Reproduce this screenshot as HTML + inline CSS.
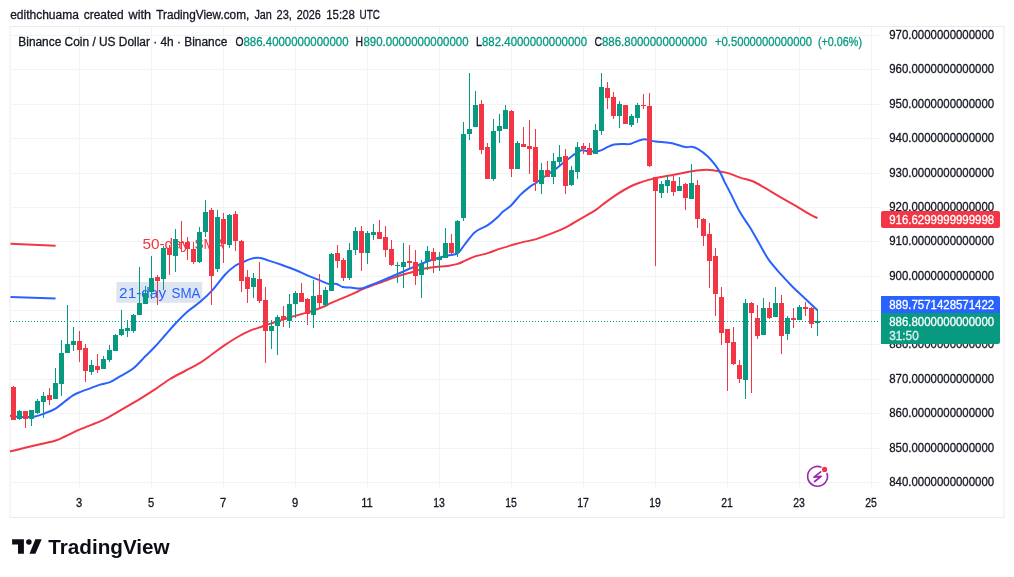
<!DOCTYPE html>
<html><head><meta charset="utf-8"><title>BNBUSD chart</title>
<style>
html,body{margin:0;padding:0;background:#fff;}
body{width:1014px;height:577px;overflow:hidden;font-family:"Liberation Sans",sans-serif;}
svg{display:block;will-change:transform;}
svg text{font-family:"Liberation Sans",sans-serif;}
</style></head><body>
<svg width="1014" height="577" viewBox="0 0 1014 577">
<rect x="0" y="0" width="1014" height="577" fill="#ffffff"/>
<rect x="10" y="26.5" width="994" height="491" fill="none" stroke="#ebebee" stroke-width="1"/>
<g shape-rendering="crispEdges" fill="#f2f3f5">
<rect x="11" y="482" width="869" height="1"/><rect x="11" y="448" width="869" height="1"/><rect x="11" y="413" width="869" height="1"/><rect x="11" y="379" width="869" height="1"/><rect x="11" y="344" width="869" height="1"/><rect x="11" y="310" width="869" height="1"/><rect x="11" y="276" width="869" height="1"/><rect x="11" y="241" width="869" height="1"/><rect x="11" y="207" width="869" height="1"/><rect x="11" y="173" width="869" height="1"/><rect x="11" y="138" width="869" height="1"/><rect x="11" y="104" width="869" height="1"/><rect x="11" y="69" width="869" height="1"/><rect x="11" y="35" width="869" height="1"/><rect x="79" y="27" width="1" height="461"/><rect x="151" y="27" width="1" height="461"/><rect x="223" y="27" width="1" height="461"/><rect x="295" y="27" width="1" height="461"/><rect x="367" y="27" width="1" height="461"/><rect x="439" y="27" width="1" height="461"/><rect x="511" y="27" width="1" height="461"/><rect x="583" y="27" width="1" height="461"/><rect x="655" y="27" width="1" height="461"/><rect x="727" y="27" width="1" height="461"/><rect x="799" y="27" width="1" height="461"/><rect x="871" y="27" width="1" height="461"/>
</g>
<line x1="10.5" y1="243.7" x2="55.6" y2="245.8" stroke="#f23645" stroke-width="2"/>
<line x1="10.5" y1="297.1" x2="55.6" y2="298.6" stroke="#2962ff" stroke-width="2"/>
<text x="142.4" y="248.5" font-size="14.5" fill="#f23645" textLength="47" lengthAdjust="spacingAndGlyphs">50-day</text>
<text x="194.4" y="248.5" font-size="14.5" fill="#f23645" textLength="29.6" lengthAdjust="spacingAndGlyphs">SMA</text>
<rect x="116.4" y="282" width="85.8" height="20.8" fill="#dde5f0"/>
<text x="119.1" y="297.5" font-size="14.5" fill="#2962ff" textLength="47" lengthAdjust="spacingAndGlyphs">21-day</text>
<text x="171.5" y="297.5" font-size="14.5" fill="#2962ff" textLength="29" lengthAdjust="spacingAndGlyphs">SMA</text>
<path d="M10.0,451.5 C12.5,450.9 20.0,448.9 25.0,447.7 C30.0,446.5 35.0,445.4 40.0,444.2 C45.0,443.0 50.8,442.0 55.0,440.7 C59.2,439.4 60.8,438.4 65.0,436.5 C69.2,434.6 74.2,431.9 80.0,429.4 C85.8,426.9 95.0,423.6 100.0,421.4 C105.0,419.2 105.8,418.7 110.0,416.4 C114.2,414.1 120.0,410.6 125.0,407.7 C130.0,404.8 135.0,401.9 140.0,398.9 C145.0,395.8 150.0,392.7 155.0,389.4 C160.0,386.1 165.0,382.1 170.0,379.0 C175.0,375.9 180.0,373.7 185.0,371.0 C190.0,368.3 195.4,365.6 200.0,362.8 C204.6,360.0 208.3,357.0 212.5,354.0 C216.7,351.0 220.9,347.7 225.1,344.9 C229.3,342.1 233.4,339.4 237.6,337.0 C241.8,334.6 245.9,332.5 250.1,330.7 C254.3,328.9 258.5,327.8 262.7,326.3 C266.9,324.9 271.0,323.4 275.2,322.0 C279.4,320.6 283.5,319.5 287.7,318.2 C291.9,316.9 296.1,315.6 300.3,314.4 C304.5,313.1 308.6,312.1 312.8,310.7 C317.0,309.3 322.4,307.2 325.3,306.0 C328.2,304.8 327.3,304.6 330.2,303.3 C333.1,302.0 338.5,300.0 342.7,298.2 C346.9,296.4 352.2,294.1 355.3,292.6 C358.4,291.2 358.8,290.6 361.5,289.5 C364.2,288.4 368.1,286.9 371.5,285.7 C374.9,284.4 377.6,283.6 382.0,282.0 C386.4,280.4 392.9,277.9 397.6,276.4 C402.3,274.8 405.9,273.9 410.1,272.7 C414.3,271.4 418.4,269.9 422.6,268.9 C426.8,267.9 431.0,267.4 435.2,266.9 C439.4,266.4 443.9,266.4 447.7,265.9 C451.4,265.4 454.8,264.8 457.7,263.9 C460.6,263.0 462.3,261.9 465.2,260.7 C468.1,259.4 471.4,257.7 475.2,256.4 C479.0,255.1 484.0,254.3 487.8,253.1 C491.6,251.9 494.1,250.7 497.8,249.4 C501.6,248.2 506.1,246.8 510.3,245.6 C514.5,244.4 518.6,243.1 522.8,242.1 C527.0,241.1 530.8,240.8 535.4,239.4 C540.0,238.0 545.4,235.9 550.4,233.9 C555.4,231.9 560.4,230.1 565.4,227.6 C570.4,225.1 575.5,221.7 580.5,218.8 C585.5,215.9 591.8,212.5 595.5,210.1 C599.2,207.7 599.5,207.0 602.8,204.5 C606.1,202.0 610.8,198.3 615.4,195.3 C620.0,192.3 626.1,188.7 630.4,186.5 C634.7,184.3 637.3,183.5 641.4,182.1 C645.5,180.7 649.5,179.6 655.1,178.3 C660.7,177.0 669.4,175.7 675.2,174.5 C681.1,173.3 685.6,172.2 690.2,171.4 C694.8,170.6 699.0,170.1 702.8,169.9 C706.6,169.7 708.8,169.7 712.8,170.2 C716.8,170.7 722.5,171.7 727.1,172.9 C731.7,174.1 735.9,176.2 740.2,177.6 C744.5,179.0 748.5,179.6 752.7,181.3 C756.9,183.1 760.7,185.5 765.3,188.1 C769.9,190.7 775.3,194.2 780.3,197.1 C785.3,200.0 790.3,202.7 795.3,205.6 C800.3,208.5 806.6,212.5 810.3,214.6 C814.0,216.7 816.2,217.5 817.4,218.1" fill="none" stroke="#f23645" stroke-width="2" stroke-linejoin="round" stroke-linecap="butt"/>
<path d="M10.0,415.7 C11.7,415.9 15.8,416.9 20.0,417.0 C24.2,417.1 30.8,417.0 35.0,416.4 C39.2,415.8 41.7,414.4 45.0,413.2 C48.3,411.9 51.7,410.9 55.0,408.9 C58.3,406.9 62.1,403.6 65.0,401.4 C67.9,399.2 70.1,397.2 72.6,395.6 C75.1,394.1 77.1,393.3 80.0,392.1 C82.9,390.9 86.7,389.6 90.0,388.4 C93.3,387.1 96.7,385.7 100.0,384.6 C103.3,383.6 106.7,383.5 110.0,382.1 C113.3,380.7 116.2,378.5 120.0,376.3 C123.8,374.1 128.6,372.1 132.8,368.8 C137.0,365.5 141.6,360.1 145.3,356.3 C149.1,352.6 152.0,349.9 155.3,346.3 C158.6,342.8 161.8,339.0 165.3,335.0 C168.8,331.0 172.7,326.4 176.4,322.5 C180.1,318.6 183.6,314.9 187.6,311.5 C191.6,308.1 196.0,305.4 200.2,301.8 C204.4,298.2 208.5,294.4 212.7,289.8 C216.9,285.2 221.4,278.5 225.2,274.5 C228.9,270.5 232.5,267.7 235.2,265.8 C237.9,263.9 238.8,264.0 241.3,262.9 C243.8,261.8 247.1,260.0 250.0,259.1 C252.9,258.2 255.7,257.4 258.8,257.7 C261.9,257.9 265.1,259.4 268.9,260.6 C272.7,261.8 277.0,263.2 281.4,264.8 C285.8,266.4 291.0,268.2 295.4,270.0 C299.8,271.8 303.7,273.8 307.9,275.6 C312.1,277.4 316.9,279.2 320.4,280.6 C323.9,282.0 326.3,283.6 329.0,284.1 C331.7,284.7 334.2,283.4 336.5,283.9 C338.8,284.4 340.4,286.4 342.7,287.0 C345.0,287.6 347.5,287.3 350.5,287.6 C353.5,287.9 357.6,288.8 360.5,288.6 C363.4,288.4 364.2,287.6 367.8,286.3 C371.4,285.0 377.0,282.8 382.0,280.7 C387.0,278.6 392.9,276.0 397.6,274.0 C402.3,272.0 405.9,270.3 410.1,268.5 C414.3,266.7 418.4,264.8 422.6,263.2 C426.8,261.6 431.0,260.1 435.2,258.8 C439.4,257.5 443.9,256.4 447.7,255.5 C451.4,254.6 454.8,255.1 457.7,253.2 C460.6,251.3 462.3,247.4 465.2,243.9 C468.1,240.4 471.4,235.0 475.2,231.9 C479.0,228.8 484.0,227.6 487.8,225.1 C491.6,222.6 495.4,219.2 497.8,217.0 C500.2,214.8 500.2,214.1 502.5,212.1 C504.8,210.1 508.4,208.0 511.3,205.2 C514.2,202.4 517.2,198.0 520.1,195.1 C523.0,192.2 526.1,189.7 528.8,187.6 C531.5,185.5 533.7,184.5 536.4,182.6 C539.1,180.7 542.0,178.5 545.1,176.3 C548.2,174.1 552.3,171.6 555.2,169.4 C558.1,167.2 560.2,165.2 562.7,163.2 C565.2,161.2 568.1,159.1 570.2,157.5 C572.3,155.9 573.3,155.0 575.2,153.8 C577.1,152.6 579.4,150.6 581.5,150.2 C583.6,149.8 584.8,151.1 587.7,151.2 C590.6,151.3 595.6,151.7 599.0,151.0 C602.4,150.3 605.3,148.0 607.8,146.9 C610.3,145.8 611.6,145.1 614.0,144.6 C616.4,144.1 619.3,144.0 622.0,143.9 C624.7,143.8 626.9,144.7 630.4,143.9 C633.9,143.2 638.7,139.8 642.9,139.4 C647.1,139.0 650.8,140.8 655.4,141.4 C660.0,142.0 665.5,142.0 670.5,142.9 C675.5,143.8 681.7,146.4 685.2,147.0 C688.7,147.6 689.4,146.4 691.5,146.7 C693.6,147.0 695.0,147.2 697.7,148.8 C700.4,150.4 704.9,153.7 707.8,156.4 C710.7,159.1 713.2,162.4 715.3,165.1 C717.4,167.8 718.7,169.9 720.3,172.7 C721.9,175.5 723.1,178.8 724.7,182.1 C726.4,185.4 727.6,187.5 730.2,192.6 C732.8,197.7 736.9,206.8 740.2,212.6 C743.5,218.4 746.9,222.3 750.2,227.7 C753.5,233.1 757.1,239.8 760.2,245.2 C763.3,250.6 765.6,255.4 769.0,260.2 C772.4,264.9 776.3,269.2 780.3,273.7 C784.3,278.2 788.6,282.8 792.8,287.0 C797.0,291.2 801.2,294.9 805.3,298.8 C809.4,302.7 815.5,308.4 817.5,310.3" fill="none" stroke="#2962ff" stroke-width="2" stroke-linejoin="round" stroke-linecap="butt"/>
<g shape-rendering="crispEdges">
<rect x="13" y="386" width="1" height="34" fill="#f23645"/><rect x="11" y="387" width="5" height="33" fill="#f23645"/>
<rect x="19" y="410" width="1" height="10" fill="#089981"/><rect x="17" y="411" width="5" height="8" fill="#089981"/>
<rect x="25" y="411" width="1" height="17" fill="#f23645"/><rect x="23" y="411" width="5" height="8" fill="#f23645"/>
<rect x="31" y="410" width="1" height="16" fill="#089981"/><rect x="29" y="410" width="5" height="9" fill="#089981"/>
<rect x="37" y="399" width="1" height="15" fill="#089981"/><rect x="35" y="401" width="5" height="12" fill="#089981"/>
<rect x="43" y="392" width="1" height="26" fill="#089981"/><rect x="41" y="396" width="5" height="6" fill="#089981"/>
<rect x="49" y="388" width="1" height="17" fill="#f23645"/><rect x="47" y="395" width="5" height="5" fill="#f23645"/>
<rect x="55" y="368" width="1" height="31" fill="#089981"/><rect x="53" y="383" width="5" height="16" fill="#089981"/>
<rect x="61" y="340" width="1" height="56" fill="#089981"/><rect x="59" y="353" width="5" height="31" fill="#089981"/>
<rect x="67" y="305" width="1" height="48" fill="#089981"/><rect x="65" y="344" width="5" height="9" fill="#089981"/>
<rect x="73" y="327" width="1" height="24" fill="#089981"/><rect x="71" y="341" width="5" height="4" fill="#089981"/>
<rect x="79" y="331" width="1" height="31" fill="#f23645"/><rect x="77" y="341" width="5" height="9" fill="#f23645"/>
<rect x="85" y="344" width="1" height="38" fill="#f23645"/><rect x="83" y="348" width="5" height="23" fill="#f23645"/>
<rect x="91" y="360" width="1" height="15" fill="#089981"/><rect x="89" y="365" width="5" height="7" fill="#089981"/>
<rect x="97" y="354" width="1" height="19" fill="#f23645"/><rect x="95" y="366" width="5" height="4" fill="#f23645"/>
<rect x="103" y="356" width="1" height="13" fill="#089981"/><rect x="101" y="359" width="5" height="10" fill="#089981"/>
<rect x="109" y="345" width="1" height="17" fill="#089981"/><rect x="107" y="350" width="5" height="10" fill="#089981"/>
<rect x="115" y="334" width="1" height="17" fill="#089981"/><rect x="113" y="335" width="5" height="16" fill="#089981"/>
<rect x="121" y="310" width="1" height="26" fill="#089981"/><rect x="119" y="329" width="5" height="6" fill="#089981"/>
<rect x="127" y="320" width="1" height="17" fill="#089981"/><rect x="125" y="328" width="5" height="3" fill="#089981"/>
<rect x="133" y="314" width="1" height="19" fill="#089981"/><rect x="131" y="315" width="5" height="16" fill="#089981"/>
<rect x="139" y="267" width="1" height="48" fill="#089981"/><rect x="137" y="303" width="5" height="12" fill="#089981"/>
<rect x="145" y="286" width="1" height="18" fill="#089981"/><rect x="143" y="293" width="5" height="11" fill="#089981"/>
<rect x="151" y="256" width="1" height="43" fill="#089981"/><rect x="149" y="278" width="5" height="14" fill="#089981"/>
<rect x="157" y="275" width="1" height="30" fill="#f23645"/><rect x="155" y="277" width="5" height="4" fill="#f23645"/>
<rect x="163" y="246" width="1" height="44" fill="#089981"/><rect x="161" y="248" width="5" height="31" fill="#089981"/>
<rect x="169" y="245" width="1" height="30" fill="#f23645"/><rect x="167" y="248" width="5" height="7" fill="#f23645"/>
<rect x="175" y="229" width="1" height="43" fill="#089981"/><rect x="173" y="239" width="5" height="17" fill="#089981"/>
<rect x="181" y="221" width="1" height="31" fill="#f23645"/><rect x="179" y="242" width="5" height="1" fill="#f23645"/>
<rect x="187" y="237" width="1" height="23" fill="#f23645"/><rect x="185" y="242" width="5" height="7" fill="#f23645"/>
<rect x="193" y="242" width="1" height="22" fill="#f23645"/><rect x="191" y="249" width="5" height="13" fill="#f23645"/>
<rect x="199" y="227" width="1" height="36" fill="#089981"/><rect x="197" y="232" width="5" height="30" fill="#089981"/>
<rect x="205" y="200" width="1" height="37" fill="#089981"/><rect x="203" y="212" width="5" height="20" fill="#089981"/>
<rect x="211" y="208" width="1" height="97" fill="#f23645"/><rect x="209" y="210" width="5" height="66" fill="#f23645"/>
<rect x="217" y="210" width="1" height="62" fill="#089981"/><rect x="215" y="217" width="5" height="52" fill="#089981"/>
<rect x="223" y="213" width="1" height="50" fill="#f23645"/><rect x="221" y="219" width="5" height="25" fill="#f23645"/>
<rect x="229" y="214" width="1" height="34" fill="#089981"/><rect x="227" y="215" width="5" height="30" fill="#089981"/>
<rect x="235" y="211" width="1" height="40" fill="#f23645"/><rect x="233" y="214" width="5" height="27" fill="#f23645"/>
<rect x="241" y="240" width="1" height="52" fill="#f23645"/><rect x="239" y="241" width="5" height="40" fill="#f23645"/>
<rect x="247" y="270" width="1" height="33" fill="#f23645"/><rect x="245" y="277" width="5" height="12" fill="#f23645"/>
<rect x="253" y="273" width="1" height="25" fill="#089981"/><rect x="251" y="278" width="5" height="9" fill="#089981"/>
<rect x="259" y="262" width="1" height="41" fill="#f23645"/><rect x="257" y="279" width="5" height="22" fill="#f23645"/>
<rect x="265" y="287" width="1" height="76" fill="#f23645"/><rect x="263" y="300" width="5" height="31" fill="#f23645"/>
<rect x="271" y="320" width="1" height="29" fill="#089981"/><rect x="269" y="326" width="5" height="5" fill="#089981"/>
<rect x="277" y="315" width="1" height="40" fill="#089981"/><rect x="275" y="317" width="5" height="9" fill="#089981"/>
<rect x="283" y="306" width="1" height="21" fill="#f23645"/><rect x="281" y="316" width="5" height="4" fill="#f23645"/>
<rect x="289" y="294" width="1" height="34" fill="#089981"/><rect x="287" y="304" width="5" height="17" fill="#089981"/>
<rect x="295" y="291" width="1" height="27" fill="#089981"/><rect x="293" y="293" width="5" height="11" fill="#089981"/>
<rect x="301" y="283" width="1" height="19" fill="#f23645"/><rect x="299" y="293" width="5" height="9" fill="#f23645"/>
<rect x="307" y="298" width="1" height="27" fill="#f23645"/><rect x="305" y="299" width="5" height="15" fill="#f23645"/>
<rect x="313" y="280" width="1" height="48" fill="#089981"/><rect x="311" y="296" width="5" height="19" fill="#089981"/>
<rect x="319" y="274" width="1" height="34" fill="#f23645"/><rect x="317" y="295" width="5" height="8" fill="#f23645"/>
<rect x="325" y="287" width="1" height="20" fill="#089981"/><rect x="323" y="290" width="5" height="15" fill="#089981"/>
<rect x="331" y="253" width="1" height="38" fill="#089981"/><rect x="329" y="254" width="5" height="37" fill="#089981"/>
<rect x="337" y="245" width="1" height="23" fill="#f23645"/><rect x="335" y="253" width="5" height="8" fill="#f23645"/>
<rect x="343" y="258" width="1" height="23" fill="#f23645"/><rect x="341" y="260" width="5" height="18" fill="#f23645"/>
<rect x="349" y="243" width="1" height="37" fill="#089981"/><rect x="347" y="250" width="5" height="28" fill="#089981"/>
<rect x="355" y="227" width="1" height="28" fill="#089981"/><rect x="353" y="231" width="5" height="19" fill="#089981"/>
<rect x="361" y="226" width="1" height="45" fill="#f23645"/><rect x="359" y="231" width="5" height="22" fill="#f23645"/>
<rect x="367" y="231" width="1" height="33" fill="#089981"/><rect x="365" y="233" width="5" height="20" fill="#089981"/>
<rect x="373" y="224" width="1" height="16" fill="#089981"/><rect x="371" y="232" width="5" height="3" fill="#089981"/>
<rect x="379" y="220" width="1" height="19" fill="#f23645"/><rect x="377" y="232" width="5" height="7" fill="#f23645"/>
<rect x="385" y="226" width="1" height="31" fill="#f23645"/><rect x="383" y="237" width="5" height="13" fill="#f23645"/>
<rect x="391" y="240" width="1" height="26" fill="#f23645"/><rect x="389" y="249" width="5" height="16" fill="#f23645"/>
<rect x="397" y="262" width="1" height="21" fill="#089981"/><rect x="395" y="265" width="5" height="1" fill="#089981"/>
<rect x="403" y="243" width="1" height="45" fill="#089981"/><rect x="401" y="262" width="5" height="5" fill="#089981"/>
<rect x="409" y="245" width="1" height="23" fill="#f23645"/><rect x="407" y="261" width="5" height="2" fill="#f23645"/>
<rect x="415" y="250" width="1" height="35" fill="#f23645"/><rect x="413" y="262" width="5" height="14" fill="#f23645"/>
<rect x="421" y="260" width="1" height="38" fill="#089981"/><rect x="419" y="264" width="5" height="11" fill="#089981"/>
<rect x="427" y="246" width="1" height="24" fill="#089981"/><rect x="425" y="251" width="5" height="10" fill="#089981"/>
<rect x="433" y="248" width="1" height="25" fill="#f23645"/><rect x="431" y="252" width="5" height="9" fill="#f23645"/>
<rect x="439" y="252" width="1" height="19" fill="#089981"/><rect x="437" y="257" width="5" height="3" fill="#089981"/>
<rect x="445" y="228" width="1" height="30" fill="#089981"/><rect x="443" y="243" width="5" height="15" fill="#089981"/>
<rect x="451" y="234" width="1" height="20" fill="#f23645"/><rect x="449" y="243" width="5" height="10" fill="#f23645"/>
<rect x="457" y="220" width="1" height="37" fill="#089981"/><rect x="455" y="221" width="5" height="32" fill="#089981"/>
<rect x="463" y="122" width="1" height="99" fill="#089981"/><rect x="461" y="134" width="5" height="84" fill="#089981"/>
<rect x="469" y="73" width="1" height="67" fill="#089981"/><rect x="467" y="129" width="5" height="5" fill="#089981"/>
<rect x="475" y="91" width="1" height="36" fill="#089981"/><rect x="473" y="105" width="5" height="22" fill="#089981"/>
<rect x="481" y="100" width="1" height="54" fill="#f23645"/><rect x="479" y="104" width="5" height="46" fill="#f23645"/>
<rect x="487" y="143" width="1" height="36" fill="#f23645"/><rect x="485" y="147" width="5" height="32" fill="#f23645"/>
<rect x="493" y="119" width="1" height="62" fill="#089981"/><rect x="491" y="131" width="5" height="48" fill="#089981"/>
<rect x="499" y="114" width="1" height="29" fill="#089981"/><rect x="497" y="126" width="5" height="5" fill="#089981"/>
<rect x="505" y="105" width="1" height="24" fill="#089981"/><rect x="503" y="110" width="5" height="19" fill="#089981"/>
<rect x="511" y="110" width="1" height="67" fill="#f23645"/><rect x="509" y="111" width="5" height="58" fill="#f23645"/>
<rect x="517" y="141" width="1" height="28" fill="#089981"/><rect x="515" y="143" width="5" height="26" fill="#089981"/>
<rect x="523" y="127" width="1" height="20" fill="#f23645"/><rect x="521" y="144" width="5" height="3" fill="#f23645"/>
<rect x="529" y="120" width="1" height="54" fill="#f23645"/><rect x="527" y="146" width="5" height="3" fill="#f23645"/>
<rect x="535" y="129" width="1" height="62" fill="#f23645"/><rect x="533" y="147" width="5" height="35" fill="#f23645"/>
<rect x="541" y="163" width="1" height="31" fill="#089981"/><rect x="539" y="170" width="5" height="14" fill="#089981"/>
<rect x="547" y="161" width="1" height="16" fill="#f23645"/><rect x="545" y="170" width="5" height="7" fill="#f23645"/>
<rect x="553" y="153" width="1" height="31" fill="#089981"/><rect x="551" y="161" width="5" height="16" fill="#089981"/>
<rect x="559" y="145" width="1" height="20" fill="#089981"/><rect x="557" y="157" width="5" height="5" fill="#089981"/>
<rect x="565" y="149" width="1" height="45" fill="#f23645"/><rect x="563" y="156" width="5" height="30" fill="#f23645"/>
<rect x="571" y="166" width="1" height="20" fill="#089981"/><rect x="569" y="170" width="5" height="15" fill="#089981"/>
<rect x="577" y="142" width="1" height="37" fill="#089981"/><rect x="575" y="147" width="5" height="25" fill="#089981"/>
<rect x="583" y="143" width="1" height="11" fill="#f23645"/><rect x="581" y="146" width="5" height="3" fill="#f23645"/>
<rect x="589" y="143" width="1" height="12" fill="#f23645"/><rect x="587" y="148" width="5" height="7" fill="#f23645"/>
<rect x="595" y="124" width="1" height="30" fill="#089981"/><rect x="593" y="130" width="5" height="24" fill="#089981"/>
<rect x="601" y="73" width="1" height="62" fill="#089981"/><rect x="599" y="87" width="5" height="44" fill="#089981"/>
<rect x="607" y="82" width="1" height="27" fill="#f23645"/><rect x="605" y="88" width="5" height="10" fill="#f23645"/>
<rect x="613" y="92" width="1" height="27" fill="#f23645"/><rect x="611" y="97" width="5" height="19" fill="#f23645"/>
<rect x="619" y="101" width="1" height="27" fill="#089981"/><rect x="617" y="104" width="5" height="12" fill="#089981"/>
<rect x="625" y="105" width="1" height="19" fill="#f23645"/><rect x="623" y="105" width="5" height="19" fill="#f23645"/>
<rect x="631" y="114" width="1" height="13" fill="#089981"/><rect x="629" y="116" width="5" height="9" fill="#089981"/>
<rect x="637" y="103" width="1" height="20" fill="#089981"/><rect x="635" y="105" width="5" height="13" fill="#089981"/>
<rect x="643" y="94" width="1" height="15" fill="#f23645"/><rect x="641" y="105" width="5" height="1" fill="#f23645"/>
<rect x="649" y="93" width="1" height="74" fill="#f23645"/><rect x="647" y="106" width="5" height="60" fill="#f23645"/>
<rect x="655" y="177" width="1" height="89" fill="#f23645"/><rect x="653" y="177" width="5" height="14" fill="#f23645"/>
<rect x="661" y="181" width="1" height="17" fill="#089981"/><rect x="659" y="184" width="5" height="9" fill="#089981"/>
<rect x="667" y="175" width="1" height="18" fill="#089981"/><rect x="665" y="180" width="5" height="6" fill="#089981"/>
<rect x="673" y="176" width="1" height="20" fill="#f23645"/><rect x="671" y="181" width="5" height="11" fill="#f23645"/>
<rect x="679" y="177" width="1" height="14" fill="#089981"/><rect x="677" y="186" width="5" height="5" fill="#089981"/>
<rect x="685" y="183" width="1" height="27" fill="#f23645"/><rect x="683" y="184" width="5" height="14" fill="#f23645"/>
<rect x="691" y="164" width="1" height="35" fill="#089981"/><rect x="689" y="183" width="5" height="16" fill="#089981"/>
<rect x="697" y="180" width="1" height="48" fill="#f23645"/><rect x="695" y="185" width="5" height="34" fill="#f23645"/>
<rect x="703" y="218" width="1" height="28" fill="#f23645"/><rect x="701" y="219" width="5" height="17" fill="#f23645"/>
<rect x="709" y="223" width="1" height="65" fill="#f23645"/><rect x="707" y="234" width="5" height="27" fill="#f23645"/>
<rect x="715" y="248" width="1" height="68" fill="#f23645"/><rect x="713" y="256" width="5" height="38" fill="#f23645"/>
<rect x="721" y="287" width="1" height="58" fill="#f23645"/><rect x="719" y="297" width="5" height="36" fill="#f23645"/>
<rect x="727" y="329" width="1" height="62" fill="#f23645"/><rect x="725" y="329" width="5" height="14" fill="#f23645"/>
<rect x="733" y="327" width="1" height="38" fill="#f23645"/><rect x="731" y="342" width="5" height="22" fill="#f23645"/>
<rect x="739" y="360" width="1" height="23" fill="#f23645"/><rect x="737" y="365" width="5" height="14" fill="#f23645"/>
<rect x="745" y="299" width="1" height="100" fill="#089981"/><rect x="743" y="303" width="5" height="77" fill="#089981"/>
<rect x="751" y="302" width="1" height="91" fill="#f23645"/><rect x="749" y="303" width="5" height="10" fill="#f23645"/>
<rect x="757" y="305" width="1" height="34" fill="#f23645"/><rect x="755" y="318" width="5" height="18" fill="#f23645"/>
<rect x="763" y="298" width="1" height="37" fill="#089981"/><rect x="761" y="308" width="5" height="27" fill="#089981"/>
<rect x="769" y="302" width="1" height="17" fill="#f23645"/><rect x="767" y="308" width="5" height="10" fill="#f23645"/>
<rect x="775" y="287" width="1" height="30" fill="#089981"/><rect x="773" y="303" width="5" height="14" fill="#089981"/>
<rect x="781" y="295" width="1" height="59" fill="#f23645"/><rect x="779" y="303" width="5" height="33" fill="#f23645"/>
<rect x="787" y="316" width="1" height="24" fill="#089981"/><rect x="785" y="318" width="5" height="16" fill="#089981"/>
<rect x="793" y="308" width="1" height="20" fill="#f23645"/><rect x="791" y="318" width="5" height="2" fill="#f23645"/>
<rect x="799" y="305" width="1" height="15" fill="#089981"/><rect x="797" y="307" width="5" height="13" fill="#089981"/>
<rect x="805" y="302" width="1" height="14" fill="#f23645"/><rect x="803" y="307" width="5" height="2" fill="#f23645"/>
<rect x="811" y="307" width="1" height="21" fill="#f23645"/><rect x="809" y="308" width="5" height="16" fill="#f23645"/>
<rect x="817" y="310" width="1" height="26" fill="#089981"/><rect x="815" y="321" width="5" height="2" fill="#089981"/>
</g>
<line x1="10" y1="321.5" x2="880" y2="321.5" stroke="#089981" stroke-width="1" stroke-dasharray="1 2" shape-rendering="crispEdges"/>
<text x="10.2" y="19" font-size="12.5" fill="#131722" stroke="#131722" stroke-width="0.3" textLength="68.7" lengthAdjust="spacingAndGlyphs">edithchuama</text>
<text x="83.7" y="19" font-size="12.5" fill="#131722" stroke="#131722" stroke-width="0.3" textLength="40.0" lengthAdjust="spacingAndGlyphs">created</text>
<text x="128.6" y="19" font-size="12.5" fill="#131722" stroke="#131722" stroke-width="0.3" textLength="22.5" lengthAdjust="spacingAndGlyphs">with</text>
<text x="156.2" y="19" font-size="12.5" fill="#131722" stroke="#131722" stroke-width="0.3" textLength="93.1" lengthAdjust="spacingAndGlyphs">TradingView.com,</text>
<text x="254.4" y="19" font-size="12.5" fill="#131722" stroke="#131722" stroke-width="0.3" textLength="17.5" lengthAdjust="spacingAndGlyphs">Jan</text>
<text x="276.5" y="19" font-size="12.5" fill="#131722" stroke="#131722" stroke-width="0.3" textLength="15.4" lengthAdjust="spacingAndGlyphs">23,</text>
<text x="296.8" y="19" font-size="12.5" fill="#131722" stroke="#131722" stroke-width="0.3" textLength="24.1" lengthAdjust="spacingAndGlyphs">2026</text>
<text x="326.2" y="19" font-size="12.5" fill="#131722" stroke="#131722" stroke-width="0.3" textLength="28.6" lengthAdjust="spacingAndGlyphs">15:28</text>
<text x="359.6" y="19" font-size="12.5" fill="#131722" stroke="#131722" stroke-width="0.3" textLength="20.4" lengthAdjust="spacingAndGlyphs">UTC</text>
<text x="18.3" y="45.6" font-size="12" fill="#131722" stroke="#131722" stroke-width="0.3" textLength="209" lengthAdjust="spacingAndGlyphs">Binance Coin / US Dollar · 4h · Binance</text>
<text x="235.5" y="45.6" font-size="12" fill="#131722" stroke="#131722" stroke-width="0.3" textLength="8" lengthAdjust="spacingAndGlyphs">O</text>
<text x="243.5" y="45.6" font-size="12" fill="#089981" stroke="#089981" stroke-width="0.3" textLength="105" lengthAdjust="spacingAndGlyphs">886.4000000000000</text>
<text x="355.5" y="45.6" font-size="12" fill="#131722" stroke="#131722" stroke-width="0.3" textLength="7.5" lengthAdjust="spacingAndGlyphs">H</text>
<text x="363.5" y="45.6" font-size="12" fill="#089981" stroke="#089981" stroke-width="0.3" textLength="105" lengthAdjust="spacingAndGlyphs">890.0000000000000</text>
<text x="476" y="45.6" font-size="12" fill="#131722" stroke="#131722" stroke-width="0.3" textLength="6" lengthAdjust="spacingAndGlyphs">L</text>
<text x="482" y="45.6" font-size="12" fill="#089981" stroke="#089981" stroke-width="0.3" textLength="105" lengthAdjust="spacingAndGlyphs">882.4000000000000</text>
<text x="594.5" y="45.6" font-size="12" fill="#131722" stroke="#131722" stroke-width="0.3" textLength="7.5" lengthAdjust="spacingAndGlyphs">C</text>
<text x="602" y="45.6" font-size="12" fill="#089981" stroke="#089981" stroke-width="0.3" textLength="105" lengthAdjust="spacingAndGlyphs">886.8000000000000</text>
<text x="715" y="45.6" font-size="12" fill="#089981" stroke="#089981" stroke-width="0.3" textLength="97" lengthAdjust="spacingAndGlyphs">+0.5000000000000</text>
<text x="818" y="45.6" font-size="12" fill="#089981" stroke="#089981" stroke-width="0.3" textLength="44" lengthAdjust="spacingAndGlyphs">(+0.06%)</text>
<text x="889.2" y="485.9" font-size="12" fill="#131722" stroke="#131722" stroke-width="0.3" textLength="105" lengthAdjust="spacingAndGlyphs">840.0000000000000</text>
<text x="889.2" y="451.9" font-size="12" fill="#131722" stroke="#131722" stroke-width="0.3" textLength="105" lengthAdjust="spacingAndGlyphs">850.0000000000000</text>
<text x="889.2" y="416.9" font-size="12" fill="#131722" stroke="#131722" stroke-width="0.3" textLength="105" lengthAdjust="spacingAndGlyphs">860.0000000000000</text>
<text x="889.2" y="382.9" font-size="12" fill="#131722" stroke="#131722" stroke-width="0.3" textLength="105" lengthAdjust="spacingAndGlyphs">870.0000000000000</text>
<text x="889.2" y="347.9" font-size="12" fill="#131722" stroke="#131722" stroke-width="0.3" textLength="105" lengthAdjust="spacingAndGlyphs">880.0000000000000</text>
<text x="889.2" y="313.9" font-size="12" fill="#131722" stroke="#131722" stroke-width="0.3" textLength="105" lengthAdjust="spacingAndGlyphs">890.0000000000000</text>
<text x="889.2" y="279.9" font-size="12" fill="#131722" stroke="#131722" stroke-width="0.3" textLength="105" lengthAdjust="spacingAndGlyphs">900.0000000000000</text>
<text x="889.2" y="244.9" font-size="12" fill="#131722" stroke="#131722" stroke-width="0.3" textLength="105" lengthAdjust="spacingAndGlyphs">910.0000000000000</text>
<text x="889.2" y="210.9" font-size="12" fill="#131722" stroke="#131722" stroke-width="0.3" textLength="105" lengthAdjust="spacingAndGlyphs">920.0000000000000</text>
<text x="889.2" y="176.9" font-size="12" fill="#131722" stroke="#131722" stroke-width="0.3" textLength="105" lengthAdjust="spacingAndGlyphs">930.0000000000000</text>
<text x="889.2" y="141.9" font-size="12" fill="#131722" stroke="#131722" stroke-width="0.3" textLength="105" lengthAdjust="spacingAndGlyphs">940.0000000000000</text>
<text x="889.2" y="108.0" font-size="12" fill="#131722" stroke="#131722" stroke-width="0.3" textLength="105" lengthAdjust="spacingAndGlyphs">950.0000000000000</text>
<text x="889.2" y="73.0" font-size="12" fill="#131722" stroke="#131722" stroke-width="0.3" textLength="105" lengthAdjust="spacingAndGlyphs">960.0000000000000</text>
<text x="889.2" y="39.0" font-size="12" fill="#131722" stroke="#131722" stroke-width="0.3" textLength="105" lengthAdjust="spacingAndGlyphs">970.0000000000000</text>
<rect x="881" y="211" width="119" height="17" rx="2" fill="#f23645"/>
<text x="889.2" y="223.8" font-size="12" fill="#ffffff" stroke="#ffffff" stroke-width="0.3" textLength="105" lengthAdjust="spacingAndGlyphs">916.6299999999998</text>
<path d="M881,296 h117 a2,2 0 0 1 2,2 v15 h-119 z" fill="#2962ff"/>
<text x="889.2" y="308.8" font-size="12" fill="#ffffff" stroke="#ffffff" stroke-width="0.3" textLength="105" lengthAdjust="spacingAndGlyphs">889.7571428571422</text>
<path d="M881,313 h119 v29 a2,2 0 0 1 -2,2 h-117 z" fill="#089981"/>
<text x="889.2" y="325.8" font-size="12" fill="#ffffff" stroke="#ffffff" stroke-width="0.3" textLength="105" lengthAdjust="spacingAndGlyphs">886.8000000000000</text>
<text x="889.2" y="339.5" font-size="12" fill="#ffffff" stroke="#ffffff" stroke-width="0.3" textLength="29.5" lengthAdjust="spacingAndGlyphs" fill-opacity="0.75">31:50</text>
<text x="75.9" y="507" font-size="12" fill="#131722" stroke="#131722" stroke-width="0.3" textLength="6.2" lengthAdjust="spacingAndGlyphs">3</text>
<text x="147.9" y="507" font-size="12" fill="#131722" stroke="#131722" stroke-width="0.3" textLength="6.2" lengthAdjust="spacingAndGlyphs">5</text>
<text x="219.9" y="507" font-size="12" fill="#131722" stroke="#131722" stroke-width="0.3" textLength="6.2" lengthAdjust="spacingAndGlyphs">7</text>
<text x="291.9" y="507" font-size="12" fill="#131722" stroke="#131722" stroke-width="0.3" textLength="6.2" lengthAdjust="spacingAndGlyphs">9</text>
<text x="361.2" y="507" font-size="12" fill="#131722" stroke="#131722" stroke-width="0.3" textLength="11.6" lengthAdjust="spacingAndGlyphs">11</text>
<text x="433.2" y="507" font-size="12" fill="#131722" stroke="#131722" stroke-width="0.3" textLength="11.6" lengthAdjust="spacingAndGlyphs">13</text>
<text x="505.2" y="507" font-size="12" fill="#131722" stroke="#131722" stroke-width="0.3" textLength="11.6" lengthAdjust="spacingAndGlyphs">15</text>
<text x="577.2" y="507" font-size="12" fill="#131722" stroke="#131722" stroke-width="0.3" textLength="11.6" lengthAdjust="spacingAndGlyphs">17</text>
<text x="649.2" y="507" font-size="12" fill="#131722" stroke="#131722" stroke-width="0.3" textLength="11.6" lengthAdjust="spacingAndGlyphs">19</text>
<text x="721.2" y="507" font-size="12" fill="#131722" stroke="#131722" stroke-width="0.3" textLength="11.6" lengthAdjust="spacingAndGlyphs">21</text>
<text x="793.2" y="507" font-size="12" fill="#131722" stroke="#131722" stroke-width="0.3" textLength="11.6" lengthAdjust="spacingAndGlyphs">23</text>
<text x="865.2" y="507" font-size="12" fill="#131722" stroke="#131722" stroke-width="0.3" textLength="11.6" lengthAdjust="spacingAndGlyphs">25</text>
<g fill="none" stroke="#9c27b0" stroke-linecap="round" stroke-linejoin="round"><path d="M820.9,467.0 A9.9,9.9 0 1 0 827.0,473.4" stroke-width="1.6"/><path d="M820.7,471.9 L814.0,477.2 L821.1,476.4 L814.7,481.5" stroke-width="1.7"/></g>
<circle cx="824.6" cy="469.4" r="2.6" fill="#f23645"/>
<g fill="#0c0e15"><path d="M12.1,539.3 H23.9 V553.7 H18 V544.6 H12.1 Z"/><circle cx="28.9" cy="542" r="2.76"/><path d="M35.4,539.3 H41.7 L35.4,553.7 H29.5 Z"/></g>
<text x="48.3" y="553.7" font-size="20" font-weight="bold" fill="#0c0e15" textLength="121.3" lengthAdjust="spacingAndGlyphs">TradingView</text>
</svg>
</body></html>
